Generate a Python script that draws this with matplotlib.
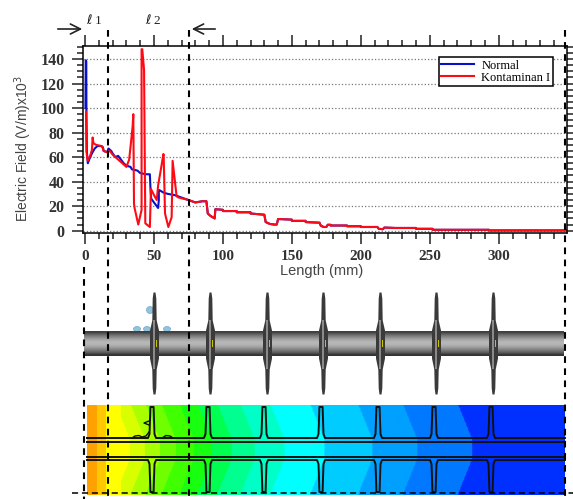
import numpy as np
import matplotlib
matplotlib.use('Agg')
import matplotlib.pyplot as plt
from matplotlib.colors import ListedColormap, BoundaryNorm
from matplotlib.patches import Ellipse, Rectangle
from matplotlib.ticker import MultipleLocator

# Datos
tail_x = [100, 100, 110, 110, 120, 120, 130, 131, 134, 137, 139, 140, 150, 150, 160, 160, 170, 171, 173, 175, 176,
          178, 178, 190, 190, 200, 200, 212, 213, 216, 217, 218, 225, 240, 240, 252, 252, 293, 293, 349]
tail_y = [17, 16, 16, 15, 15, 14, 13, 7, 5.5, 5, 5, 9.5, 9, 8, 8, 7, 6.5, 4, 3, 3, 4.8,
          4.8, 4.2, 4.2, 3.6, 3.6, 3, 3, 1.5, 1.2, 2.5, 2.5, 2.2, 2.2, 1.5, 1.5, 0.7, 0.7, 0.2, 0.2]

normal_x = [0.3, 0.5, 0.9, 1, 1.3, 2, 3, 5, 7, 9, 12, 13, 13.5, 16, 17, 19, 20, 22, 24, 26, 28, 30, 33, 34, 38, 40, 44,
            47, 47.5, 48, 50, 52, 53, 53.5, 53.5, 54, 57, 60, 65, 70, 75, 80, 85, 88, 89, 91, 94, 94.5] + tail_x
normal_y = [100, 139, 138, 100, 65, 55, 58, 63, 67, 69, 69, 68, 65, 64, 67, 65, 63, 60, 61, 58, 55, 53, 52, 50, 49, 47, 46,
            46, 33, 26, 23, 20, 18.5, 25, 33, 33, 31, 30, 29, 27, 25, 23, 24, 24, 14, 12, 10, 17.5] + tail_y

kont_x = [0.7, 1, 1.5, 2, 4, 5, 5.5, 6, 6.5, 8, 12, 13, 13.5, 16, 18, 20, 24, 28, 30, 32, 33.5, 34.5, 35, 35.5, 36,
          38.6, 41, 41, 41.5, 42.8, 43.7, 47, 47.8, 50, 52, 53, 55, 56.8, 57, 58, 60.4, 62.8, 63.5, 66.4, 68, 75,
          80, 85, 88, 89, 91, 94, 94.5] + tail_x
kont_y = [97, 65, 60, 57, 62, 66, 76, 72, 71, 70, 69, 67, 65, 64, 65, 62, 58, 54, 52, 58, 74, 85, 95, 22, 18,
          5, 17, 148, 148, 131, 6, 3, 34, 29, 25, 37, 50, 62.5, 62, 14, 3, 11, 57, 28, 27, 25,
          23, 24, 24, 14, 12, 10, 17.5] + tail_y

# Posiciones (px) de las campanas y colores del mapa de campo
sheds_top = [154, 210, 267, 323, 380, 436, 493]
sheds_bot = [152, 208, 264, 321, 378, 434, 491]
drops = [(150, 310), (137, 329), (147, 329), (167, 329)]
band_edges = [87, 97, 106, 130, 145, 160, 176, 194, 212, 232, 255, 285, 325, 373, 418, 473, 640]
band_colors = ['#ffa200', '#ffc800', '#ffff00', '#d8ff00', '#a8ff00', '#70ff00', '#40ff00', '#18ff10', '#00ff50',
               '#00ff90', '#00ffc8', '#00ffff', '#00ccff', '#00a0ff', '#0078ff', '#0030ff']

W, H = 573, 499
fig = plt.figure(figsize=(W/100, H/100), dpi=100)

# Grafico principal
l, r, t, b = 82.7, 567, 46, 233
ax = fig.add_axes([l/W, 1-b/H, (r-l)/W, (b-t)/H])
ax.plot(normal_x, normal_y, color='#0a10c8', lw=1.5, label='Normal')
ax.plot(kont_x, kont_y, color='#ff0a14', lw=1.5, label='Kontaminan I')
ax.set_xlim(-1.7, 349.5)
ax.set_ylim(-1.9, 150.6)
ax.xaxis.set_minor_locator(MultipleLocator(10))
ax.yaxis.set_minor_locator(MultipleLocator(5))
ax.tick_params(which='major', direction='out', length=8, width=1.1, top=True, right=True, color='#222')
ax.tick_params(which='minor', direction='out', length=4.5, width=1.1, top=True, right=True, color='#222')
ax.tick_params(axis='x', which='major', pad=4)
ax.tick_params(axis='y', which='major', pad=5)
ax.set_xticks([0, 50, 100, 150, 200, 250, 300])
ax.set_xticklabels(['0', '50', '100', '150', '200', '250', '300'], family='Liberation Serif',
                   weight='bold', fontsize=11, color='#333')
ax.set_yticks([0, 20, 40, 60, 80, 100, 120, 140])
ax.set_yticklabels(['0', '20', '40', '60', '80', '100', '120', '140'], family='Liberation Serif',
                   weight='bold', fontsize=11.5, color='#333')
ax.grid(True, axis='y', which='major', ls=':', color='#777', lw=0.9)
for s in ax.spines.values():
    s.set_linewidth(1.1)
ax.set_axisbelow(True)
leg = ax.legend(loc='upper right', bbox_to_anchor=((553-l)/(r-l), 1-(57-t)/(b-t)), borderaxespad=0,
                prop={'family': 'Liberation Serif', 'size': 9}, fancybox=False, framealpha=1,
                edgecolor='k', handlelength=2.6, labelspacing=0.0, borderpad=0.2, handletextpad=0.6)
leg.get_frame().set_linewidth(1.1)

# Capa en pixeles para el dibujo del aislador
ov = fig.add_axes([0, 0, 1, 1], facecolor='none')
ov.set_xlim(0, W)
ov.set_ylim(H, 0)
ov.axis('off')

# Mapa de campo
xx, yy = np.meshgrid(np.arange(87, 566), np.arange(405, 496))
u = xx + 0.4*np.clip(np.abs(yy-449) - 9, 0, None)*(xx > 120)
cmap = ListedColormap(band_colors)
norm = BoundaryNorm(band_edges, cmap.N)
ov.imshow(u, extent=(87, 565, 495, 405), cmap=cmap, norm=norm, aspect='auto', interpolation='bilinear', zorder=1)
ov.set_xlim(0, W)
ov.set_ylim(H, 0)

# Contorno de las campanas
up_x, up_y = [87], [438]
lo_x, lo_y = [87], [460]
for i in range(7):
    s = sheds_bot[i]
    up_x += [s-4, s-2.5, s-2, s-1.6, s+1.6, s+2, s+2.5, s+4]
    up_y += [438, 434, 420, 407, 407, 420, 434, 438]
    lo_x += [s-4, s-2.5, s-2, s-1.6, s+1.6, s+2, s+2.5, s+4]
    lo_y += [460, 464, 478, 492, 492, 478, 464, 460]
up_x.append(565)
up_y.append(438)
lo_x.append(565)
lo_y.append(460)
ov.plot(up_x, up_y, color='#111', lw=1.4, zorder=2)
ov.plot(lo_x, lo_y, color='#111', lw=1.4, zorder=2)
ov.plot([87, 565], [442, 442], color='#111', lw=1.4, zorder=2)
ov.plot([87, 565], [456.5, 456.5], color='#111', lw=1.4, zorder=2)
ov.plot([132, 135, 139, 142, 146, 149], [438, 436, 435.5, 437, 436, 432], color='#111', lw=1, zorder=2)
ov.plot([162, 166, 170, 173], [438, 435.5, 436, 438], color='#111', lw=1, zorder=2)
ov.plot([149, 144, 149], [421, 423, 425], color='#111', lw=1, zorder=2)

# Aislador 3D
grad = np.array([.25, .42, .55, .66, .72, .7, .62, .5, .38, .2]).reshape(-1, 1)
ov.imshow(grad, extent=(84, 564, 356, 331), cmap='gray', vmin=0, vmax=1, aspect='auto',
          interpolation='bilinear', zorder=3)
ov.set_xlim(0, W)
ov.set_ylim(H, 0)
for dx, dy in drops:
    ov.add_patch(Ellipse((dx, dy), 7, 5 if dy > 320 else 7, fc='#8fc4dc', ec='#6fa8c8', lw=0.5, zorder=2.5))
ys = np.array([292, 298, 320, 330, 358, 369, 388, 394])
hw = np.array([1, 1.8, 2.2, 4.5, 4.5, 2.2, 1.8, 1])
for s in sheds_top:
    ov.fill_betweenx(ys, s-hw, s+hw, color='#3a3a3a', lw=0, zorder=4)
    ov.fill_betweenx(ys[2:6], s-0.6, s+0.6, color='#8a8a8a', lw=0, zorder=5)
    ov.add_patch(Rectangle((s+2, 340), 1, 7, fc='#c8c000', ec='none', zorder=5))

# Lineas punteadas de referencia
dash = dict(color='k', lw=1.5, ls=(0, (3.2, 2.6)), zorder=6, clip_on=False)
ov.plot([84, 84], [267, 499], **dash)
ov.plot([108, 108], [30, 499], **dash)
ov.plot([189, 189], [30, 499], **dash)
ov.plot([564.5, 564.5], [30, 499], **dash)
ov.plot([72, 573], [492.5, 492.5], color='k', lw=1.1, ls=(0, (4, 2.5)), zorder=6)

# Flechas y etiquetas
ov.annotate('', xy=(85, 29), xytext=(55, 29), arrowprops=dict(arrowstyle='->', color='#222', lw=1.2, mutation_scale=18))
ov.annotate('', xy=(189, 29), xytext=(218, 29), arrowprops=dict(arrowstyle='->', color='#222', lw=1.2, mutation_scale=18))
ov.text(94, 20, r'$\ell$ 1', ha='center', va='center', fontsize=9.5, color='#222', family='Liberation Serif')
ov.text(153, 20, r'$\ell$ 2', ha='center', va='center', fontsize=9.5, color='#222', family='Liberation Serif')
ov.text(322, 271, 'Length (mm)', ha='center', va='center', fontsize=10.5, color='#444', family='Liberation Sans')
ov.text(23, 148, 'Electric Field (V/m)x10$^{3}$', ha='center', va='center', rotation=90, fontsize=10,
        color='#444', family='Liberation Sans')

fig.savefig('out.png', dpi=100)
